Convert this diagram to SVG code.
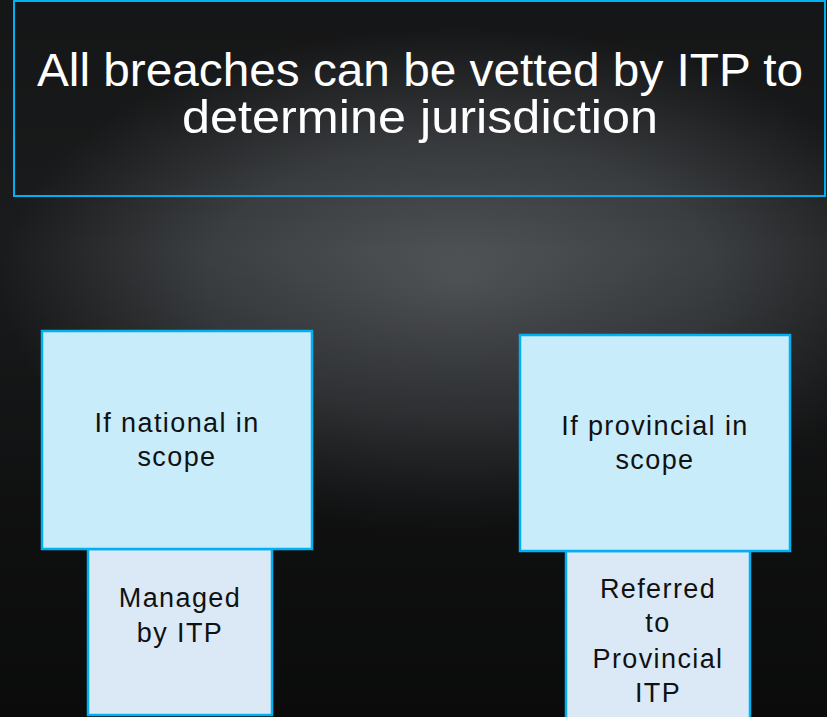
<svg xmlns="http://www.w3.org/2000/svg" width="827" height="717" viewBox="0 0 827 717">
<defs>
<radialGradient id="cloud" cx="460" cy="280" r="460" gradientUnits="userSpaceOnUse" gradientTransform="translate(460 280) scale(1 0.55) translate(-460 -280)">
<stop offset="0" stop-color="#525558"/>
<stop offset="0.55" stop-color="#3c3f42"/>
<stop offset="1" stop-color="#1a1b1c"/>
</radialGradient>
<linearGradient id="fade" x1="0" y1="0" x2="0" y2="1">
<stop offset="0" stop-color="#000" stop-opacity="0.2"/>
<stop offset="0.35" stop-color="#000" stop-opacity="0"/>
<stop offset="0.7" stop-color="#000" stop-opacity="0.4"/>
<stop offset="1" stop-color="#000" stop-opacity="0.6"/>
</linearGradient>
<style>
.title{font-family:"Liberation Sans",Arial,sans-serif;font-size:46px;fill:#ffffff;text-anchor:middle}
.lbl{font-family:"Liberation Sans",Arial,sans-serif;font-size:27px;fill:#111111;text-anchor:middle;letter-spacing:1.4px}
.big{fill:#c9ecfb;stroke:#00b0f0;stroke-width:2.5}
.small{fill:#dbe9f7;stroke:#00b0f0;stroke-width:2.5}
</style>
</defs>
<rect x="0" y="0" width="827" height="717" fill="#1b1c1d"/>
<rect x="0" y="0" width="827" height="717" fill="url(#cloud)"/>
<rect x="0" y="0" width="827" height="717" fill="url(#fade)"/>
<g id="title">
<rect x="14" y="1" width="811" height="195" fill="none" stroke="#00b0f0" stroke-width="2"/>
<text class="title" x="420" y="86" textLength="766" lengthAdjust="spacingAndGlyphs">All breaches can be vetted by ITP to</text>
<text class="title" x="420" y="133" textLength="476" lengthAdjust="spacingAndGlyphs">determine jurisdiction</text>
</g>
<g id="managed">
<rect class="small" x="88" y="549" width="184" height="166"/>
<text class="lbl" x="180" y="607">Managed</text>
<text class="lbl" x="180" y="642">by ITP</text>
</g>
<g id="national">
<rect class="big" x="42" y="331" width="270" height="218"/>
<text class="lbl" x="177" y="432">If national in</text>
<text class="lbl" x="177" y="466">scope</text>
</g>
<g id="referred">
<rect class="small" x="566" y="551" width="184" height="170"/>
<text class="lbl" x="658" y="598">Referred</text>
<text class="lbl" x="658" y="632">to</text>
<text class="lbl" x="658" y="668">Provincial</text>
<text class="lbl" x="658" y="702">ITP</text>
</g>
<g id="provincial">
<rect class="big" x="520" y="335" width="270" height="216"/>
<text class="lbl" x="655" y="435">If provincial in</text>
<text class="lbl" x="655" y="469">scope</text>
</g>
<g id="connectors"/>
</svg>
